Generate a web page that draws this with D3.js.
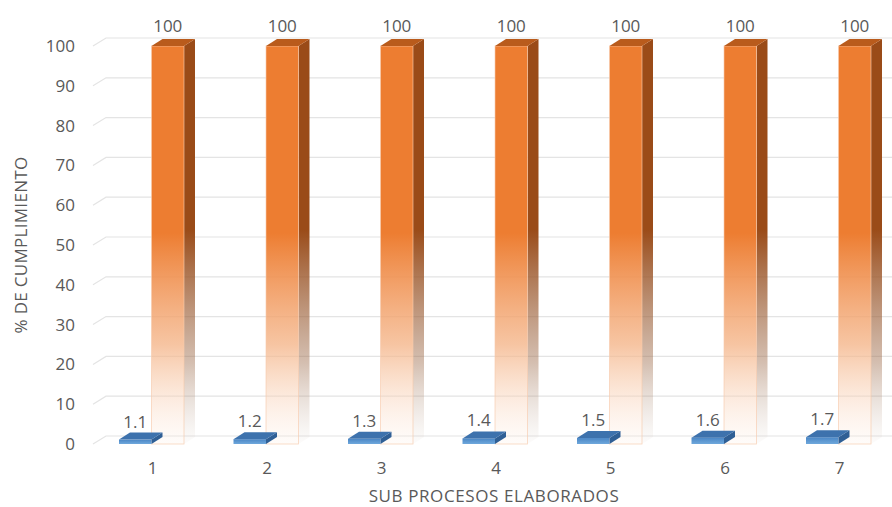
<!DOCTYPE html>
<html>
<head>
<meta charset="utf-8">
<script src="https://cdn.jsdelivr.net/npm/d3@7"></script>
<style>
    body { margin: 0; background: #fff; }
    svg text { font-family: "Open Sans", sans-serif; fill: #595959; }
</style>
</head>
<body>
<svg id="chart" width="892" height="507"></svg>
<script>
const categories = ['1', '2', '3', '4', '5', '6', '7']
const blueValues = [1.1, 1.2, 1.3, 1.4, 1.5, 1.6, 1.7]
const orangeValues = [100, 100, 100, 100, 100, 100, 100]
const yTicks = [0, 10, 20, 30, 40, 50, 60, 70, 80, 90, 100]
const series = ['blue', 'orange']

const svg = d3.select('#chart')
const defs = svg.append('defs')

const x = d3.scalePoint().domain(categories).range([152, 839])
const sub = d3.scaleBand().domain(series).range([-33, 32])
const y = d3.scaleLinear().domain([0, 100]).range([444, 46])

// profundidad 3d
const bar = { dx: 11, dy: -7 }
const wall = { x: 93, dx: 13, dy: -8 }

const grad = (id, stops) => {
    const g = defs.append('linearGradient').attr('id', id)
        .attr('x1', 0).attr('y1', 0).attr('x2', 0).attr('y2', 1)
    stops.forEach(s => g.append('stop').attr('offset', s[0]).attr('stop-color', s[1]).attr('stop-opacity', s[2]))
}
grad('orFront', [[0, '#ED7D31', 1], [0.47, '#ED7D31', 1], [0.75, '#F4B183', 0.75], [1, '#FDEEE3', 0.2]])
grad('orSide', [[0, '#9A4B18', 1], [0.47, '#9A4B18', 1], [0.8, '#A07050', 0.45], [1, '#C8B8AC', 0.05]])
grad('blFront', [[0, '#4A86C5', 1], [1, '#6FA8DC', 1]])

// lineas de cuadricula
svg.append('g').selectAll('path')
    .data(yTicks)
    .enter()
    .append('path')
        .attr('d', d => `M${wall.x},${y(d)}L${wall.x + wall.dx},${y(d) + wall.dy}H892`)
        .attr('fill', 'none')
        .attr('stroke', '#E4E4E4')
        .attr('stroke-width', 1.2)

const yAxis = d3.axisLeft(y).tickValues(yTicks).tickSize(0).tickPadding(0)
svg.append('g')
    .attr('transform', 'translate(75,0)')
    .call(yAxis)
    .call(g => g.select('.domain').remove())
    .selectAll('text')
        .style('font-size', '17px')
        .attr('fill', '#595959')

const xAxis = d3.axisBottom(x).tickSize(0).tickPadding(18)
svg.append('g')
    .attr('transform', `translate(0,${y(0)})`)
    .call(xAxis)
    .call(g => g.select('.domain').remove())
    .selectAll('text')
        .style('font-size', '17px')
        .attr('fill', '#595959')

const drawBox = (g, x0, w, v, colors) => {
    const t = y(v), b = y(0)
    g.append('path')
        .attr('d', `M${x0 + w},${t}L${x0 + w + bar.dx},${t + bar.dy}L${x0 + w + bar.dx},${b + bar.dy}L${x0 + w},${b}Z`)
        .attr('fill', colors.side)
    g.append('rect')
        .attr('x', x0).attr('y', t)
        .attr('width', w).attr('height', b - t)
        .attr('fill', colors.front)
        .attr('stroke', colors.edge || 'none')
        .attr('stroke-width', 0.8)
    g.append('path')
        .attr('d', `M${x0},${t}L${x0 + bar.dx},${t + bar.dy}L${x0 + w + bar.dx},${t + bar.dy}L${x0 + w},${t}Z`)
        .attr('fill', colors.top)
}

const bars = svg.append('g')
categories.forEach((c, i) => {
    const w = sub.bandwidth()
    drawBox(bars, x(c) + sub('orange'), w, orangeValues[i], {
        front: 'url(#orFront)', side: 'url(#orSide)', top: '#B95B1C', edge: 'rgba(248,203,173,0.8)'
    })
    drawBox(bars, x(c) + sub('blue'), w, blueValues[i], {
        front: 'url(#blFront)', side: '#2F5F95', top: '#3D72AD'
    })
})

// etiquetas de datos
const labels = svg.append('g').style('font-size', '17px').attr('text-anchor', 'middle')
categories.forEach((c, i) => {
    const w = sub.bandwidth()
    labels.append('text')
        .attr('x', x(c) + sub('orange') + w / 2)
        .attr('y', y(orangeValues[i]) - 14)
        .text(orangeValues[i])
    labels.append('text')
        .attr('x', x(c) + sub('blue') + w / 2)
        .attr('y', y(blueValues[i]) - 12)
        .text(blueValues[i])
})

svg.append('text')
    .attr('x', 494).attr('y', 502)
    .attr('text-anchor', 'middle')
    .style('font-size', '17px')
    .style('letter-spacing', '0.6px')
    .text('SUB PROCESOS ELABORADOS')

svg.append('text')
    .attr('transform', 'translate(27,245) rotate(-90)')
    .attr('text-anchor', 'middle')
    .style('font-size', '17px')
    .style('letter-spacing', '0.3px')
    .text('% DE CUMPLIMIENTO')
</script>
</body>
</html>
